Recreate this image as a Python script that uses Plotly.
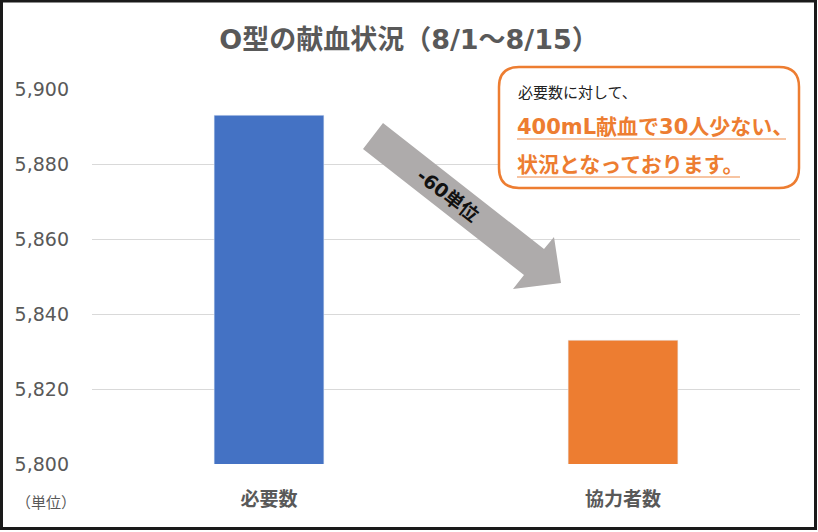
import plotly.graph_objects as go

categories = ["必要数", "協力者数"]
values = [5893, 5833]
colors = ["#4472C4", "#ED7D31"]
y_ticks = [5800, 5820, 5840, 5860, 5880, 5900]

W, H = 818, 532
L, R, T, B = 92, 18, 89, 68
PW, PH = W - L - R, H - T - B

def px(x):
    return (x - L) / PW

def py(y):
    return (H - B - y) / PH

FONT = "DejaVu Sans, Noto Sans CJK JP, sans-serif"
GRAY = "#595959"

fig = go.Figure()
fig.add_trace(go.Bar(
    x=categories, y=values, marker_color=colors, width=0.31,
    hoverinfo="skip",
))

shapes = []
# outer frame
shapes.append(dict(type="rect", xref="paper", yref="paper",
                   x0=px(1.5), x1=px(815.5), y0=py(528.5), y1=py(1),
                   line=dict(color="#1a1a1a", width=3), layer="below"))

# gray block arrow
pts = [(383, 123), (544, 249), (554, 237), (561, 283), (513, 289), (524, 275), (363, 149)]
path = "M " + " L ".join(f"{px(a):.5f},{py(b):.5f}" for a, b in pts) + " Z"
shapes.append(dict(type="path", xref="paper", yref="paper", path=path,
                   fillcolor="#AEABAB", line=dict(width=0), layer="above"))

# rounded callout box
x0, x1, y0, y1, r = 499, 799, 67, 188, 20
def P(a, b):
    return f"{px(a):.5f},{py(b):.5f}"
box = (f"M {P(x0 + r, y0)} L {P(x1 - r, y0)} Q {P(x1, y0)} {P(x1, y0 + r)} "
       f"L {P(x1, y1 - r)} Q {P(x1, y1)} {P(x1 - r, y1)} "
       f"L {P(x0 + r, y1)} Q {P(x0, y1)} {P(x0, y1 - r)} "
       f"L {P(x0, y0 + r)} Q {P(x0, y0)} {P(x0 + r, y0)} Z")
shapes.append(dict(type="path", xref="paper", yref="paper", path=box,
                   fillcolor="white", line=dict(color="#ED7D31", width=2.5), layer="above"))
# underlines
shapes.append(dict(type="line", xref="paper", yref="paper",
                   x0=px(517), x1=px(786), y0=py(139), y1=py(139),
                   line=dict(color="#F4B183", width=1.5)))
shapes.append(dict(type="line", xref="paper", yref="paper",
                   x0=px(517), x1=px(740), y0=py(177), y1=py(177),
                   line=dict(color="#F4B183", width=1.5)))

annotations = [
    dict(text="<b>-60単位</b>", xref="paper", yref="paper", x=px(448), y=py(195),
         xanchor="center", yanchor="middle",
         showarrow=False, textangle=38, font=dict(size=19, color="#111111", family=FONT)),
    dict(text="必要数に対して、", xref="paper", yref="paper", x=px(516), y=py(93),
         xanchor="left", yanchor="middle", showarrow=False,
         font=dict(size=15, color="#222222", family=FONT)),
    dict(text="<b>400mL献血で30人少ない、</b>", xref="paper", yref="paper", x=px(515), y=py(127),
         xanchor="left", yanchor="middle", showarrow=False,
         font=dict(size=21, color="#ED7D31", family=FONT)),
    dict(text="<b>状況となっております。</b>", xref="paper", yref="paper", x=px(515), y=py(165),
         xanchor="left", yanchor="middle", showarrow=False,
         font=dict(size=21, color="#ED7D31", family=FONT)),
    dict(text="（単位）", xref="paper", yref="paper", x=px(46), y=py(503),
         xanchor="center", yanchor="middle", showarrow=False,
         font=dict(size=15, color=GRAY, family=FONT)),
]

fig.update_layout(
    width=W, height=H,
    margin=dict(l=L, r=R, t=T, b=B),
    paper_bgcolor="white", plot_bgcolor="white",
    showlegend=False,
    title=dict(text="<b>O型の献血状況（8/1～8/15）</b>", x=0.5, xref="container",
               xanchor="center", y=1 - 40 / H, yanchor="middle",
               font=dict(size=27, color=GRAY, family=FONT)),
    xaxis=dict(showgrid=False, showline=False, ticks="",
               tickfont=dict(size=19, color=GRAY, family=FONT),
               tickprefix="<b>", ticksuffix="</b>",
               ticklabelstandoff=22),
    yaxis=dict(range=[5800, 5900], tickvals=y_ticks, tickformat=",d",
               showgrid=True, gridcolor="#D9D9D9", gridwidth=1,
               zeroline=False, showline=False, ticks="",
               tickfont=dict(size=19, color=GRAY, family=FONT),
               ticklabelstandoff=22),
    shapes=shapes,
    annotations=annotations,
)

fig.write_html("out.html", config={"displayModeBar": False},
               post_script="document.body.style.margin='0';")
